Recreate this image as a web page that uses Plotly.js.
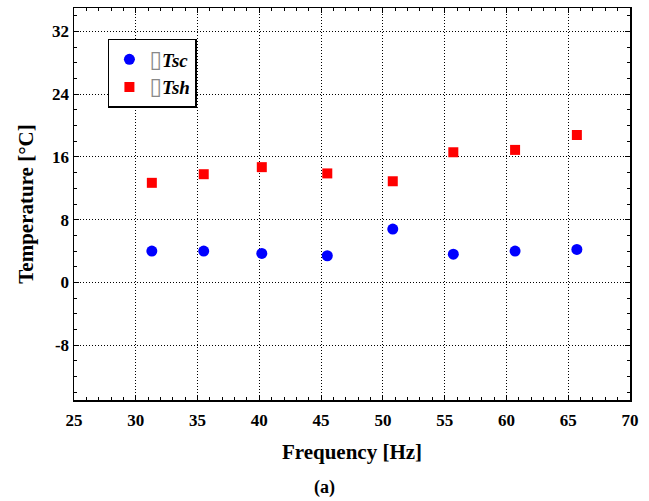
<!DOCTYPE html>
<html>
<head>
<meta charset="utf-8">
<script src="https://cdn.plot.ly/plotly-3.0.1.min.js"></script>
<style>html,body{margin:0;padding:0;background:#fff;}</style>
</head>
<body>
<div id="chart" style="width:649px;height:501px;"></div>
<script>
// Data
const frequency = [31.3, 35.5, 40.2, 45.5, 50.8, 55.7, 60.7, 65.7];
const tsc = [4.0, 4.0, 3.7, 3.4, 6.8, 3.6, 4.0, 4.2];
const tsh = [12.7, 13.8, 14.7, 13.9, 12.9, 16.6, 16.9, 18.8];
const seriesNames = ['Tsc', 'Tsh'];
const xTicks = [25, 30, 35, 40, 45, 50, 55, 60, 65, 70];
const yTicks = [-8, 0, 8, 16, 24, 32];

const box = '<span style="color:#888888;font-style:normal;font-weight:normal;font-family:DejaVu Sans;font-size:23px">\u25AF</span>';

const traces = [
  {
    x: frequency, y: tsc, name: box + seriesNames[0], type: 'scatter', mode: 'markers',
    marker: {symbol: 'circle', size: 11, color: '#0000ff'}
  },
  {
    x: frequency, y: tsh, name: box + seriesNames[1], type: 'scatter', mode: 'markers',
    marker: {symbol: 'square', size: 10, color: '#ff0000'}
  }
];

function serif(size) {
  return {family: 'Liberation Serif', size: size, color: '#000', weight: 'bold'};
}

const layout = {
  width: 649, height: 501,
  margin: {l: 74, r: 19, t: 8, b: 101},
  paper_bgcolor: '#fff', plot_bgcolor: '#fff',
  font: {family: 'Liberation Serif', color: '#000'},
  showlegend: true,
  legend: {
    x: 0.061, y: 0.921, xanchor: 'left', yanchor: 'top',
    bgcolor: '#fff', bordercolor: '#000', borderwidth: 1.5,
    font: {family: 'Liberation Serif', size: 19, color: '#000', weight: 'bold', style: 'italic'},
    tracegroupgap: 0, itemwidth: 30
  },
  xaxis: {
    range: [25, 70], tickvals: xTicks, ticktext: xTicks.map(v => '<b>' + v + '</b>'),
    tickfont: serif(17), ticklabelstandoff: 4,
    showline: true, linecolor: '#000', linewidth: 1.5, mirror: 'ticks',
    ticks: 'inside', ticklen: 5, tickcolor: '#000', tickwidth: 1,
    showgrid: true, gridcolor: '#000', gridwidth: 1, griddash: '1px,2px',
    zeroline: false,
    minor: {dtick: 1, ticks: 'inside', ticklen: 3, tickcolor: '#000', showgrid: false},
    title: {text: 'Frequency [Hz]', font: serif(21), standoff: 15}
  },
  yaxis: {
    range: [-15, 35], tickvals: yTicks, ticktext: yTicks.map(v => '<b>' + v + '</b>'),
    tickfont: serif(17),
    showline: true, linecolor: '#000', linewidth: 1.5, mirror: 'ticks',
    ticks: 'inside', ticklen: 5, tickcolor: '#000', tickwidth: 1,
    showgrid: true, gridcolor: '#000', gridwidth: 1, griddash: '1px,2px',
    zeroline: false,
    minor: {dtick: 2, ticks: 'inside', ticklen: 3, tickcolor: '#000', showgrid: false},
    title: {text: 'Temperature [\u00B0C]', font: serif(21), standoff: 12}
  },
  annotations: [
    {text: '(a)', xref: 'paper', yref: 'paper', x: 0.45, y: -0.222, xanchor: 'center', yanchor: 'middle',
     showarrow: false, font: serif(18)}
  ]
};

Plotly.newPlot('chart', traces, layout, {displayModeBar: false, staticPlot: true});
</script>
</body>
</html>
